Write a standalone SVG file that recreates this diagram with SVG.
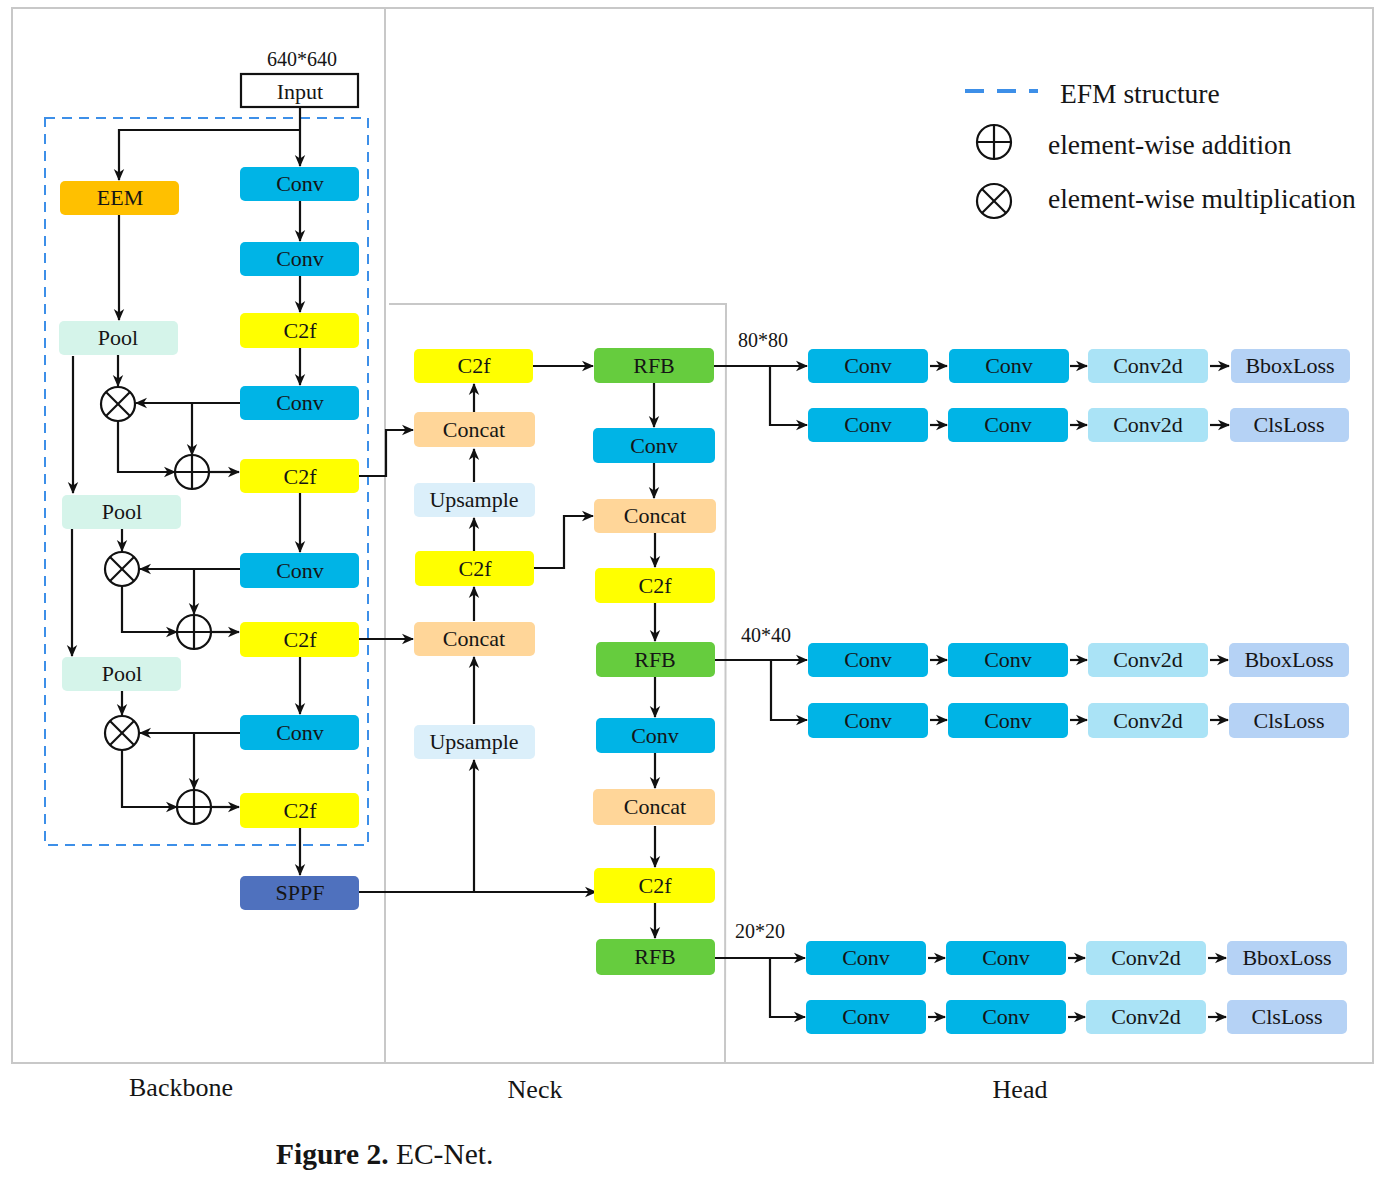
<svg xmlns="http://www.w3.org/2000/svg" width="1395" height="1182" viewBox="0 0 1395 1182">
<defs>
<marker id="ah" viewBox="0 0 12 12" refX="11" refY="6" markerWidth="12" markerHeight="12" markerUnits="userSpaceOnUse" orient="auto">
<path d="M0,0.8 L12,6 L0,11.2 L3.5,6 z" fill="#111"/>
</marker>
<style>
.frame{fill:none;stroke:#c8c8c8;stroke-width:2}
.efm{fill:none;stroke:#3d8fe8;stroke-width:2;stroke-dasharray:10 7}
.a{stroke:#111;stroke-width:2.2;fill:none;marker-end:url(#ah)}
.sym{stroke:#111;stroke-width:2.2;fill:#fff}
.sl{stroke:#111;stroke-width:2.2}
text{font-family:"Liberation Serif","Times New Roman",serif;fill:#151515}
.t{font-size:22px;text-anchor:middle}
.lg{font-size:27.5px}
.ax{font-size:26px;text-anchor:middle}
.dim{font-size:20px;text-anchor:middle}
.conv{fill:#00b4e6}
.c2f{fill:#ffff00}
.eem{fill:#ffc000}
.pool{fill:#d5f4ea}
.concat{fill:#ffd699}
.up{fill:#dbeffa}
.rfb{fill:#66cc3e}
.sppf{fill:#4f71be}
.c2d{fill:#aae3f6}
.loss{fill:#b5d2f5}
.inp{fill:#fff;stroke:#111;stroke-width:2.2}
</style>
</defs>
<rect width="1395" height="1182" fill="#fff"/>

<g id="frames">
<rect class="frame" x="12" y="8" width="1361" height="1055"/>
<line class="frame" x1="385" y1="8" x2="385" y2="1063"/>
<polyline class="frame" points="389,304 726,304 725,1063"/>
<rect class="efm" x="45" y="118" width="323" height="727"/>
</g>

<g id="connectors">
<path class="a" d="M300,108 V166"/>
<path class="a" d="M300,130 H119 V180"/>
<path class="a" d="M300,201 V241"/>
<path class="a" d="M300,276 V312"/>
<path class="a" d="M300,348 V385"/>
<path class="a" d="M119,215 V320"/>
<path class="a" d="M118,355 V386"/>
<path class="a" d="M240,403 H136"/>
<path class="a" d="M192,403 V455"/>
<path class="a" d="M118,422 V472 H175"/>
<path class="a" d="M209,472 H239"/>
<path class="a" d="M300,493 V552"/>
<path class="a" d="M73,356 V493"/>
<path class="a" d="M122,529 V551"/>
<path class="a" d="M240,569 H140"/>
<path class="a" d="M194,569 V614"/>
<path class="a" d="M122,587 V632 H177"/>
<path class="a" d="M211,632 H239"/>
<path class="a" d="M300,657 V714"/>
<path class="a" d="M72,529 V656"/>
<path class="a" d="M122,691 V715"/>
<path class="a" d="M240,733 H140"/>
<path class="a" d="M194,733 V789"/>
<path class="a" d="M122,751 V807 H177"/>
<path class="a" d="M211,807 H239"/>
<path class="a" d="M300,828 V875"/>
<path class="a" d="M359,476 H386 V430 H413"/>
<path class="a" d="M359,639 H413"/>
<path class="a" d="M359,892 H596"/>
<path class="a" d="M474,892 V760"/>
<path class="a" d="M474,724 V657"/>
<path class="a" d="M474,621 V587"/>
<path class="a" d="M474,551 V518"/>
<path class="a" d="M474,482 V449"/>
<path class="a" d="M474,412 V384"/>
<path class="a" d="M533,366 H593"/>
<path class="a" d="M534,568 H564 V516 H593"/>
<path class="a" d="M654,383 V427"/>
<path class="a" d="M654,463 V498"/>
<path class="a" d="M655,533 V567"/>
<path class="a" d="M655,603 V641"/>
<path class="a" d="M655,677 V717"/>
<path class="a" d="M655,753 V788"/>
<path class="a" d="M655,826 V867"/>
<path class="a" d="M655,903 V938"/>
<path class="a" d="M714,366 H807"/>
<path class="a" d="M770,366 V425 H807"/>
<path class="a" d="M715,660 H807"/>
<path class="a" d="M771,660 V720 H807"/>
<path class="a" d="M715,958 H805"/>
<path class="a" d="M770,958 V1017 H805"/>
<path class="a" d="M930,366 H947"/><path class="a" d="M1070,366 H1087"/><path class="a" d="M1210,366 H1229"/>
<path class="a" d="M930,425 H947"/><path class="a" d="M1070,425 H1087"/><path class="a" d="M1210,425 H1229"/>
<path class="a" d="M930,660 H947"/><path class="a" d="M1070,660 H1087"/><path class="a" d="M1210,660 H1228"/>
<path class="a" d="M930,720 H947"/><path class="a" d="M1070,720 H1087"/><path class="a" d="M1210,720 H1228"/>
<path class="a" d="M928,958 H945"/><path class="a" d="M1068,958 H1085"/><path class="a" d="M1208,958 H1226"/>
<path class="a" d="M928,1017 H945"/><path class="a" d="M1068,1017 H1085"/><path class="a" d="M1208,1017 H1226"/>
</g>

<g id="input"><text class="dim" x="302" y="66">640*640</text><rect class="inp" x="241" y="74" width="117" height="33"/><text class="t" x="300" y="99">Input</text></g>
<g id="bb-conv1"><rect class="conv" x="240" y="167" width="119" height="34" rx="5"/><text class="t" x="300" y="191">Conv</text></g>
<g id="bb-eem"><rect class="eem" x="60" y="181" width="119" height="34" rx="5"/><text class="t" x="120" y="205">EEM</text></g>
<g id="bb-conv2"><rect class="conv" x="240" y="242" width="119" height="34" rx="5"/><text class="t" x="300" y="266">Conv</text></g>
<g id="bb-c2f1"><rect class="c2f" x="240" y="313" width="119" height="35" rx="5"/><text class="t" x="300" y="338">C2f</text></g>
<g id="bb-pool1"><rect class="pool" x="59" y="321" width="119" height="34" rx="5"/><text class="t" x="118" y="345">Pool</text></g>
<g id="bb-conv3"><rect class="conv" x="240" y="386" width="119" height="34" rx="5"/><text class="t" x="300" y="410">Conv</text></g>
<g id="bb-mul1"><circle class="sym" cx="118" cy="404" r="17"/><line class="sl" x1="106" y1="392" x2="130" y2="416"/><line class="sl" x1="130" y1="392" x2="106" y2="416"/></g>
<g id="bb-add1"><circle class="sym" cx="192" cy="472" r="17"/><line class="sl" x1="175" y1="472" x2="209" y2="472"/><line class="sl" x1="192" y1="455" x2="192" y2="489"/></g>
<g id="bb-c2f2"><rect class="c2f" x="240" y="459" width="119" height="34" rx="5"/><text class="t" x="300" y="484">C2f</text></g>
<g id="bb-pool2"><rect class="pool" x="62" y="495" width="119" height="34" rx="5"/><text class="t" x="122" y="519">Pool</text></g>
<g id="bb-conv4"><rect class="conv" x="240" y="553" width="119" height="35" rx="5"/><text class="t" x="300" y="578">Conv</text></g>
<g id="bb-mul2"><circle class="sym" cx="122" cy="569" r="17"/><line class="sl" x1="110" y1="557" x2="134" y2="581"/><line class="sl" x1="134" y1="557" x2="110" y2="581"/></g>
<g id="bb-add2"><circle class="sym" cx="194" cy="632" r="17"/><line class="sl" x1="177" y1="632" x2="211" y2="632"/><line class="sl" x1="194" y1="615" x2="194" y2="649"/></g>
<g id="bb-c2f3"><rect class="c2f" x="240" y="622" width="119" height="35" rx="5"/><text class="t" x="300" y="647">C2f</text></g>
<g id="bb-pool3"><rect class="pool" x="62" y="657" width="119" height="34" rx="5"/><text class="t" x="122" y="681">Pool</text></g>
<g id="bb-conv5"><rect class="conv" x="240" y="715" width="119" height="35" rx="5"/><text class="t" x="300" y="740">Conv</text></g>
<g id="bb-mul3"><circle class="sym" cx="122" cy="733" r="17"/><line class="sl" x1="110" y1="721" x2="134" y2="745"/><line class="sl" x1="134" y1="721" x2="110" y2="745"/></g>
<g id="bb-add3"><circle class="sym" cx="194" cy="807" r="17"/><line class="sl" x1="177" y1="807" x2="211" y2="807"/><line class="sl" x1="194" y1="790" x2="194" y2="824"/></g>
<g id="bb-c2f4"><rect class="c2f" x="240" y="793" width="119" height="35" rx="5"/><text class="t" x="300" y="818">C2f</text></g>
<g id="bb-sppf"><rect class="sppf" x="240" y="876" width="119" height="34" rx="5"/><text class="t" x="300" y="900">SPPF</text></g>

<g id="nk-c2f1"><rect class="c2f" x="414" y="349" width="119" height="34" rx="5"/><text class="t" x="474" y="373">C2f</text></g>
<g id="nk-concat1"><rect class="concat" x="414" y="412" width="121" height="35" rx="5"/><text class="t" x="474" y="437">Concat</text></g>
<g id="nk-up1"><rect class="up" x="414" y="483" width="121" height="34" rx="5"/><text class="t" x="474" y="507">Upsample</text></g>
<g id="nk-c2f2"><rect class="c2f" x="415" y="551" width="119" height="35" rx="5"/><text class="t" x="475" y="576">C2f</text></g>
<g id="nk-concat2"><rect class="concat" x="414" y="622" width="121" height="34" rx="5"/><text class="t" x="474" y="646">Concat</text></g>
<g id="nk-up2"><rect class="up" x="414" y="725" width="121" height="34" rx="5"/><text class="t" x="474" y="749">Upsample</text></g>
<g id="nk-rfb1"><rect class="rfb" x="594" y="348" width="120" height="35" rx="5"/><text class="t" x="654" y="373">RFB</text></g>
<g id="nk-conv1"><rect class="conv" x="593" y="428" width="122" height="35" rx="5"/><text class="t" x="654" y="453">Conv</text></g>
<g id="nk-concat3"><rect class="concat" x="594" y="499" width="122" height="34" rx="5"/><text class="t" x="655" y="523">Concat</text></g>
<g id="nk-c2f3"><rect class="c2f" x="595" y="568" width="120" height="35" rx="5"/><text class="t" x="655" y="593">C2f</text></g>
<g id="nk-rfb2"><rect class="rfb" x="596" y="642" width="119" height="35" rx="5"/><text class="t" x="655" y="667">RFB</text></g>
<g id="nk-conv2"><rect class="conv" x="596" y="718" width="119" height="35" rx="5"/><text class="t" x="655" y="743">Conv</text></g>
<g id="nk-concat4"><rect class="concat" x="593" y="789" width="122" height="36" rx="5"/><text class="t" x="655" y="814">Concat</text></g>
<g id="nk-c2f4"><rect class="c2f" x="594" y="868" width="121" height="35" rx="5"/><text class="t" x="655" y="893">C2f</text></g>
<g id="nk-rfb3"><rect class="rfb" x="596" y="939" width="119" height="36" rx="5"/><text class="t" x="655" y="964">RFB</text></g>

<g id="hd-dims">
<text class="dim" x="763" y="347">80*80</text>
<text class="dim" x="766" y="642">40*40</text>
<text class="dim" x="760" y="938">20*20</text>
</g>

<g id="hd-a1"><rect class="conv" x="808" y="349" width="120" height="34" rx="5"/><text class="t" x="868" y="373">Conv</text></g>
<g id="hd-a2"><rect class="conv" x="949" y="349" width="120" height="34" rx="5"/><text class="t" x="1009" y="373">Conv</text></g>
<g id="hd-a3"><rect class="c2d" x="1088" y="349" width="120" height="34" rx="5"/><text class="t" x="1148" y="373">Conv2d</text></g>
<g id="hd-a4"><rect class="loss" x="1231" y="349" width="119" height="34" rx="5"/><text class="t" x="1290" y="373">BboxLoss</text></g>
<g id="hd-b1"><rect class="conv" x="808" y="408" width="120" height="34" rx="5"/><text class="t" x="868" y="432">Conv</text></g>
<g id="hd-b2"><rect class="conv" x="948" y="408" width="120" height="34" rx="5"/><text class="t" x="1008" y="432">Conv</text></g>
<g id="hd-b3"><rect class="c2d" x="1088" y="408" width="120" height="34" rx="5"/><text class="t" x="1148" y="432">Conv2d</text></g>
<g id="hd-b4"><rect class="loss" x="1230" y="408" width="119" height="34" rx="5"/><text class="t" x="1289" y="432">ClsLoss</text></g>
<g id="hd-c1"><rect class="conv" x="808" y="643" width="120" height="34" rx="5"/><text class="t" x="868" y="667">Conv</text></g>
<g id="hd-c2"><rect class="conv" x="948" y="643" width="120" height="34" rx="5"/><text class="t" x="1008" y="667">Conv</text></g>
<g id="hd-c3"><rect class="c2d" x="1088" y="643" width="120" height="34" rx="5"/><text class="t" x="1148" y="667">Conv2d</text></g>
<g id="hd-c4"><rect class="loss" x="1229" y="643" width="120" height="34" rx="5"/><text class="t" x="1289" y="667">BboxLoss</text></g>
<g id="hd-d1"><rect class="conv" x="808" y="703" width="120" height="35" rx="5"/><text class="t" x="868" y="728">Conv</text></g>
<g id="hd-d2"><rect class="conv" x="948" y="703" width="120" height="35" rx="5"/><text class="t" x="1008" y="728">Conv</text></g>
<g id="hd-d3"><rect class="c2d" x="1088" y="703" width="120" height="35" rx="5"/><text class="t" x="1148" y="728">Conv2d</text></g>
<g id="hd-d4"><rect class="loss" x="1229" y="703" width="120" height="35" rx="5"/><text class="t" x="1289" y="728">ClsLoss</text></g>
<g id="hd-e1"><rect class="conv" x="806" y="941" width="120" height="34" rx="5"/><text class="t" x="866" y="965">Conv</text></g>
<g id="hd-e2"><rect class="conv" x="946" y="941" width="120" height="34" rx="5"/><text class="t" x="1006" y="965">Conv</text></g>
<g id="hd-e3"><rect class="c2d" x="1086" y="941" width="120" height="34" rx="5"/><text class="t" x="1146" y="965">Conv2d</text></g>
<g id="hd-e4"><rect class="loss" x="1227" y="941" width="120" height="34" rx="5"/><text class="t" x="1287" y="965">BboxLoss</text></g>
<g id="hd-f1"><rect class="conv" x="806" y="1000" width="120" height="34" rx="5"/><text class="t" x="866" y="1024">Conv</text></g>
<g id="hd-f2"><rect class="conv" x="946" y="1000" width="120" height="34" rx="5"/><text class="t" x="1006" y="1024">Conv</text></g>
<g id="hd-f3"><rect class="c2d" x="1086" y="1000" width="120" height="34" rx="5"/><text class="t" x="1146" y="1024">Conv2d</text></g>
<g id="hd-f4"><rect class="loss" x="1227" y="1000" width="120" height="34" rx="5"/><text class="t" x="1287" y="1024">ClsLoss</text></g>

<g id="legend">
<line x1="965" y1="91" x2="1038" y2="91" stroke="#3d8fe8" stroke-width="4" stroke-dasharray="19 13"/>
<text class="lg" x="1060" y="103">EFM structure</text>
<circle class="sym" cx="994" cy="142" r="17"/><line class="sl" x1="977" y1="142" x2="1011" y2="142"/><line class="sl" x1="994" y1="125" x2="994" y2="159"/>
<text class="lg" x="1048" y="154">element-wise addition</text>
<circle class="sym" cx="994" cy="201" r="17"/><line class="sl" x1="982" y1="189" x2="1006" y2="213"/><line class="sl" x1="1006" y1="189" x2="982" y2="213"/>
<text class="lg" x="1048" y="208">element-wise multiplication</text>
</g>

<g id="section-labels">
<text class="ax" x="181" y="1096">Backbone</text>
<text class="ax" x="535" y="1098">Neck</text>
<text class="ax" x="1020" y="1098">Head</text>
</g>

<g id="caption">
<text x="276" y="1164" style="font-size:29.5px"><tspan font-weight="bold">Figure 2.</tspan> EC-Net.</text>
</g>
</svg>
